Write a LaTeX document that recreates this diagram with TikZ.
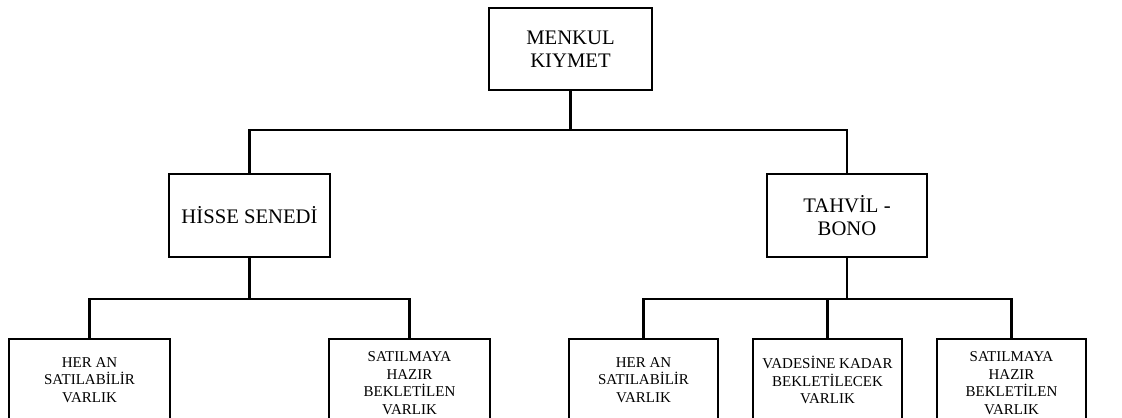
\documentclass[tikz,border=0pt]{standalone}
\usepackage{fontspec}
\setmainfont{Liberation Serif}
\begin{document}
\begin{tikzpicture}[x=0.75pt,y=-0.75pt,
  box/.style={draw,line width=1.6pt,rectangle,align=center,inner sep=0pt,anchor=north},
  topbox/.style={box,minimum height=83*0.75pt,font=\fontsize{15.5pt}{17.5pt}\selectfont},
  lowbox/.style={box,minimum height=82*0.75pt,font=\fontsize{11.25pt}{13.3pt}\selectfont},
  lowboxfour/.style={lowbox,minimum height=88*0.75pt},
  link/.style={line width=1.6pt}]
\clip (0,0) rectangle (1122,418);
\node[topbox,minimum width=163*0.75pt,minimum height=82*0.75pt] (M) at (570.5,7) {MENKUL\\KIYMET};
\node[topbox,minimum width=161*0.75pt] (H) at (249.5,173) {HİSSE SENEDİ};
\node[topbox,minimum width=160*0.75pt] (T) at (847,173) {TAHVİL -\\BONO};
\node[lowbox,minimum width=161*0.75pt] (B1) at (89.5,338) {HER AN\\SATILABİLİR\\VARLIK};
\node[lowboxfour,minimum width=161*0.75pt] (B2) at (409.5,338) {SATILMAYA\\HAZIR\\BEKLETİLEN\\VARLIK};
\node[lowbox,minimum width=149*0.75pt] (B3) at (643.5,338) {HER AN\\SATILABİLİR\\VARLIK};
\node[lowbox,minimum width=149*0.75pt] (B4) at (827.5,338) {VADESİNE KADAR\\BEKLETİLECEK\\VARLIK};
\node[lowboxfour,minimum width=149*0.75pt] (B5) at (1011.5,338) {SATILMAYA\\HAZIR\\BEKLETİLEN\\VARLIK};
\draw[link] (M.south) -- ++(0,39) -| (H.north);
\draw[link] (M.south) -- ++(0,39) -| (T.north);
\draw[link] (H.south) -- ++(0,41) -| (B1.north);
\draw[link] (H.south) -- ++(0,41) -| (B2.north);
\draw[link] (T.south) -- ++(0,41) -| (B3.north);
\draw[link] (T.south) -- ++(0,41) -| (B4.north);
\draw[link] (T.south) -- ++(0,41) -| (B5.north);
\end{tikzpicture}
\end{document}
